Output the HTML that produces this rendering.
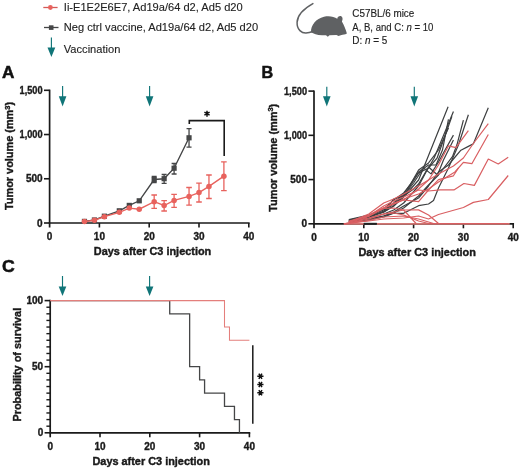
<!DOCTYPE html>
<html><head><meta charset="utf-8"><style>
html,body{margin:0;padding:0;background:#fff;width:520px;height:469px;overflow:hidden}
svg{display:block;will-change:transform}
</style></head><body>
<svg width="520" height="469" viewBox="0 0 520 469">
<line x1="43.3" y1="7.5" x2="57.6" y2="7.5" stroke="#d45a57" stroke-width="1.3"/>
<circle cx="50.4" cy="7.5" r="2.4" fill="#e8625d"/>
<line x1="44" y1="27.5" x2="58.5" y2="27.5" stroke="#454647" stroke-width="1.3"/>
<rect x="48.9" y="25.3" width="4.6" height="4.6" fill="#454647"/>
<line x1="51.4" y1="37.5" x2="51.4" y2="48.5" stroke="#107578" stroke-width="1.15"/>
<polygon points="47.5,47.5 55.3,47.5 51.4,57" fill="#107578"/>
<text x="63.8" y="11" font-family="Liberation Sans, sans-serif" font-size="11.1" fill="#222" stroke="#222" stroke-width="0.12">Ii-E1E2E6E7, Ad19a/64 d2, Ad5 d20</text>
<text x="63.8" y="30.8" font-family="Liberation Sans, sans-serif" font-size="11.1" fill="#222" stroke="#222" stroke-width="0.12">Neg ctrl vaccine, Ad19a/64 d2, Ad5 d20</text>
<text x="63.8" y="53.2" font-family="Liberation Sans, sans-serif" font-size="11.1" fill="#222" stroke="#222" stroke-width="0.12">Vaccination</text>
<path d="M312.9,3.6 C305,8 297.5,14 297.1,22.2 C296.8,30 302,33.2 306,33 C308.5,32.8 310.5,32.3 312.5,31.5" fill="none" stroke="#5f6163" stroke-width="1.5" stroke-linecap="round"/>
<path d="M311,32.2 C310.8,25 316,18.6 324,16.7 C329,15.7 334,16.4 337.3,18.8 C337.4,16.9 339,15.9 340.6,16.1 C342.6,16.4 343.2,19.2 341.9,21.6 C344,25 345.6,29.5 346.9,33.5 C345,34.5 343,34.8 341.5,34.9 L338.5,35.9 L336.5,35.1 L329.5,35.3 L327.8,36.7 L326,35.3 L322,35.3 C317,35 313.5,33.7 311,32.2 Z" fill="#5f6163"/>
<text x="352.3" y="17.0" font-family="Liberation Sans, sans-serif" font-size="10.4" fill="#222" stroke="#222" stroke-width="0.15" textLength="62" lengthAdjust="spacingAndGlyphs">C57BL/6 mice</text>
<text x="352.3" y="30.9" font-family="Liberation Sans, sans-serif" font-size="10.4" fill="#222" stroke="#222" stroke-width="0.15" textLength="81" lengthAdjust="spacingAndGlyphs">A, B, and C: <tspan font-style="italic">n</tspan> = 10</text>
<text x="352.3" y="43.9" font-family="Liberation Sans, sans-serif" font-size="10.4" fill="#222" stroke="#222" stroke-width="0.15" textLength="35" lengthAdjust="spacingAndGlyphs">D: <tspan font-style="italic">n</tspan> = 5</text>
<text transform="translate(2.0,77.7) scale(1.06,1)" font-family="Liberation Sans, sans-serif" font-size="16.2" font-weight="bold" fill="#111" stroke="#111" stroke-width="0.5">A</text>
<text x="261.6" y="77.7" font-family="Liberation Sans, sans-serif" font-size="16.2" font-weight="bold" fill="#111" stroke="#111" stroke-width="0.5">B</text>
<text transform="translate(1.9,272.3) scale(1.04,1)" font-family="Liberation Sans, sans-serif" font-size="17" font-weight="bold" fill="#111" stroke="#111" stroke-width="0.5">C</text>
<line x1="49.6" y1="89.6" x2="49.6" y2="227.5" stroke="#1a1a1a" stroke-width="1.7"/>
<line x1="48.75" y1="223.0" x2="249.65" y2="223.0" stroke="#1a1a1a" stroke-width="1.7"/>
<line x1="99.4" y1="223.0" x2="99.4" y2="227.5" stroke="#1a1a1a" stroke-width="1.6"/>
<line x1="149.20000000000002" y1="223.0" x2="149.20000000000002" y2="227.5" stroke="#1a1a1a" stroke-width="1.6"/>
<line x1="199.0" y1="223.0" x2="199.0" y2="227.5" stroke="#1a1a1a" stroke-width="1.6"/>
<line x1="248.8" y1="223.0" x2="248.8" y2="227.5" stroke="#1a1a1a" stroke-width="1.6"/>
<line x1="44.0" y1="223.0" x2="49.6" y2="223.0" stroke="#1a1a1a" stroke-width="1.6"/>
<text x="42.6" y="226.6" font-family="Liberation Sans, sans-serif" font-size="10" font-weight="bold" text-anchor="end" fill="#1a1a1a" stroke="#1a1a1a" stroke-width="0.35">0</text>
<line x1="44.0" y1="178.76666666666665" x2="49.6" y2="178.76666666666665" stroke="#1a1a1a" stroke-width="1.6"/>
<text x="42.6" y="182.36666666666665" font-family="Liberation Sans, sans-serif" font-size="10" font-weight="bold" text-anchor="end" fill="#1a1a1a" stroke="#1a1a1a" stroke-width="0.35">500</text>
<line x1="44.0" y1="134.53333333333333" x2="49.6" y2="134.53333333333333" stroke="#1a1a1a" stroke-width="1.6"/>
<text x="42.6" y="138.13333333333333" font-family="Liberation Sans, sans-serif" font-size="10" font-weight="bold" text-anchor="end" fill="#1a1a1a" stroke="#1a1a1a" stroke-width="0.35" textLength="23" lengthAdjust="spacingAndGlyphs">1,000</text>
<line x1="44.0" y1="90.30000000000001" x2="49.6" y2="90.30000000000001" stroke="#1a1a1a" stroke-width="1.6"/>
<text x="42.6" y="93.9" font-family="Liberation Sans, sans-serif" font-size="10" font-weight="bold" text-anchor="end" fill="#1a1a1a" stroke="#1a1a1a" stroke-width="0.35" textLength="23" lengthAdjust="spacingAndGlyphs">1,500</text>
<text x="49.6" y="239.7" font-family="Liberation Sans, sans-serif" font-size="10" font-weight="bold" text-anchor="middle" fill="#1a1a1a" stroke="#1a1a1a" stroke-width="0.35">0</text>
<text x="99.4" y="239.7" font-family="Liberation Sans, sans-serif" font-size="10" font-weight="bold" text-anchor="middle" fill="#1a1a1a" stroke="#1a1a1a" stroke-width="0.35">10</text>
<text x="149.20000000000002" y="239.7" font-family="Liberation Sans, sans-serif" font-size="10" font-weight="bold" text-anchor="middle" fill="#1a1a1a" stroke="#1a1a1a" stroke-width="0.35">20</text>
<text x="199.0" y="239.7" font-family="Liberation Sans, sans-serif" font-size="10" font-weight="bold" text-anchor="middle" fill="#1a1a1a" stroke="#1a1a1a" stroke-width="0.35">30</text>
<text x="248.8" y="239.7" font-family="Liberation Sans, sans-serif" font-size="10" font-weight="bold" text-anchor="middle" fill="#1a1a1a" stroke="#1a1a1a" stroke-width="0.35">40</text>
<text x="93.8" y="254.8" font-family="Liberation Sans, sans-serif" font-size="10.9" font-weight="bold" fill="#1a1a1a" stroke="#1a1a1a" stroke-width="0.4">Days after C3 injection</text>
<text transform="translate(13.2,210) rotate(-90)" font-family="Liberation Sans, sans-serif" font-size="10.9" font-weight="bold" fill="#1a1a1a" stroke="#1a1a1a" stroke-width="0.4">Tumor volume (mm<tspan dy="-3.5" font-size="7.5">3</tspan><tspan dy="3.5">)</tspan></text>
<line x1="314.0" y1="90.4" x2="314.0" y2="228.3" stroke="#1a1a1a" stroke-width="1.7"/>
<line x1="313.15" y1="223.8" x2="514.0500000000001" y2="223.8" stroke="#1a1a1a" stroke-width="1.7"/>
<line x1="363.8" y1="223.8" x2="363.8" y2="228.3" stroke="#1a1a1a" stroke-width="1.6"/>
<line x1="413.6" y1="223.8" x2="413.6" y2="228.3" stroke="#1a1a1a" stroke-width="1.6"/>
<line x1="463.4" y1="223.8" x2="463.4" y2="228.3" stroke="#1a1a1a" stroke-width="1.6"/>
<line x1="513.2" y1="223.8" x2="513.2" y2="228.3" stroke="#1a1a1a" stroke-width="1.6"/>
<line x1="308.4" y1="223.8" x2="314.0" y2="223.8" stroke="#1a1a1a" stroke-width="1.6"/>
<text x="307.0" y="227.4" font-family="Liberation Sans, sans-serif" font-size="10" font-weight="bold" text-anchor="end" fill="#1a1a1a" stroke="#1a1a1a" stroke-width="0.35">0</text>
<line x1="308.4" y1="179.56666666666666" x2="314.0" y2="179.56666666666666" stroke="#1a1a1a" stroke-width="1.6"/>
<text x="307.0" y="183.16666666666666" font-family="Liberation Sans, sans-serif" font-size="10" font-weight="bold" text-anchor="end" fill="#1a1a1a" stroke="#1a1a1a" stroke-width="0.35">500</text>
<line x1="308.4" y1="135.33333333333331" x2="314.0" y2="135.33333333333331" stroke="#1a1a1a" stroke-width="1.6"/>
<text x="307.0" y="138.9333333333333" font-family="Liberation Sans, sans-serif" font-size="10" font-weight="bold" text-anchor="end" fill="#1a1a1a" stroke="#1a1a1a" stroke-width="0.35" textLength="23" lengthAdjust="spacingAndGlyphs">1,000</text>
<line x1="308.4" y1="91.1" x2="314.0" y2="91.1" stroke="#1a1a1a" stroke-width="1.6"/>
<text x="307.0" y="94.69999999999999" font-family="Liberation Sans, sans-serif" font-size="10" font-weight="bold" text-anchor="end" fill="#1a1a1a" stroke="#1a1a1a" stroke-width="0.35" textLength="23" lengthAdjust="spacingAndGlyphs">1,500</text>
<text x="314.0" y="240.6" font-family="Liberation Sans, sans-serif" font-size="10" font-weight="bold" text-anchor="middle" fill="#1a1a1a" stroke="#1a1a1a" stroke-width="0.35">0</text>
<text x="363.8" y="240.6" font-family="Liberation Sans, sans-serif" font-size="10" font-weight="bold" text-anchor="middle" fill="#1a1a1a" stroke="#1a1a1a" stroke-width="0.35">10</text>
<text x="413.6" y="240.6" font-family="Liberation Sans, sans-serif" font-size="10" font-weight="bold" text-anchor="middle" fill="#1a1a1a" stroke="#1a1a1a" stroke-width="0.35">20</text>
<text x="463.4" y="240.6" font-family="Liberation Sans, sans-serif" font-size="10" font-weight="bold" text-anchor="middle" fill="#1a1a1a" stroke="#1a1a1a" stroke-width="0.35">30</text>
<text x="513.2" y="240.6" font-family="Liberation Sans, sans-serif" font-size="10" font-weight="bold" text-anchor="middle" fill="#1a1a1a" stroke="#1a1a1a" stroke-width="0.35">40</text>
<text x="358.5" y="256.4" font-family="Liberation Sans, sans-serif" font-size="10.9" font-weight="bold" fill="#1a1a1a" stroke="#1a1a1a" stroke-width="0.4">Days after C3 injection</text>
<text transform="translate(276.6,211.8) rotate(-90)" font-family="Liberation Sans, sans-serif" font-size="10.9" font-weight="bold" fill="#1a1a1a" stroke="#1a1a1a" stroke-width="0.4">Tumor volume (mm<tspan dy="-3.5" font-size="7.5">3</tspan><tspan dy="3.5">)</tspan></text>
<line x1="50.2" y1="299.8" x2="50.2" y2="437.3" stroke="#1a1a1a" stroke-width="1.7"/>
<line x1="49.35" y1="432.8" x2="250.25000000000003" y2="432.8" stroke="#1a1a1a" stroke-width="1.7"/>
<line x1="100.0" y1="432.8" x2="100.0" y2="437.3" stroke="#1a1a1a" stroke-width="1.6"/>
<line x1="149.8" y1="432.8" x2="149.8" y2="437.3" stroke="#1a1a1a" stroke-width="1.6"/>
<line x1="199.60000000000002" y1="432.8" x2="199.60000000000002" y2="437.3" stroke="#1a1a1a" stroke-width="1.6"/>
<line x1="249.40000000000003" y1="432.8" x2="249.40000000000003" y2="437.3" stroke="#1a1a1a" stroke-width="1.6"/>
<line x1="44.6" y1="432.8" x2="50.2" y2="432.8" stroke="#1a1a1a" stroke-width="1.6"/>
<text x="43.2" y="436.40000000000003" font-family="Liberation Sans, sans-serif" font-size="10" font-weight="bold" text-anchor="end" fill="#1a1a1a" stroke="#1a1a1a" stroke-width="0.35">0</text>
<line x1="44.6" y1="366.7" x2="50.2" y2="366.7" stroke="#1a1a1a" stroke-width="1.6"/>
<text x="43.2" y="370.3" font-family="Liberation Sans, sans-serif" font-size="10" font-weight="bold" text-anchor="end" fill="#1a1a1a" stroke="#1a1a1a" stroke-width="0.35">50</text>
<line x1="44.6" y1="300.6" x2="50.2" y2="300.6" stroke="#1a1a1a" stroke-width="1.6"/>
<text x="43.2" y="304.20000000000005" font-family="Liberation Sans, sans-serif" font-size="10" font-weight="bold" text-anchor="end" fill="#1a1a1a" stroke="#1a1a1a" stroke-width="0.35">100</text>
<text x="50.2" y="449.8" font-family="Liberation Sans, sans-serif" font-size="10" font-weight="bold" text-anchor="middle" fill="#1a1a1a" stroke="#1a1a1a" stroke-width="0.35">0</text>
<text x="100.0" y="449.8" font-family="Liberation Sans, sans-serif" font-size="10" font-weight="bold" text-anchor="middle" fill="#1a1a1a" stroke="#1a1a1a" stroke-width="0.35">10</text>
<text x="149.8" y="449.8" font-family="Liberation Sans, sans-serif" font-size="10" font-weight="bold" text-anchor="middle" fill="#1a1a1a" stroke="#1a1a1a" stroke-width="0.35">20</text>
<text x="199.60000000000002" y="449.8" font-family="Liberation Sans, sans-serif" font-size="10" font-weight="bold" text-anchor="middle" fill="#1a1a1a" stroke="#1a1a1a" stroke-width="0.35">30</text>
<text x="249.40000000000003" y="449.8" font-family="Liberation Sans, sans-serif" font-size="10" font-weight="bold" text-anchor="middle" fill="#1a1a1a" stroke="#1a1a1a" stroke-width="0.35">40</text>
<text x="92.5" y="464.6" font-family="Liberation Sans, sans-serif" font-size="10.9" font-weight="bold" fill="#1a1a1a" stroke="#1a1a1a" stroke-width="0.4">Days after C3 injection</text>
<line x1="46.400000000000006" y1="426.19" x2="50.2" y2="426.19" stroke="#1a1a1a" stroke-width="1.4"/>
<line x1="46.400000000000006" y1="419.58" x2="50.2" y2="419.58" stroke="#1a1a1a" stroke-width="1.4"/>
<line x1="46.400000000000006" y1="412.97" x2="50.2" y2="412.97" stroke="#1a1a1a" stroke-width="1.4"/>
<line x1="46.400000000000006" y1="406.36" x2="50.2" y2="406.36" stroke="#1a1a1a" stroke-width="1.4"/>
<line x1="46.400000000000006" y1="399.75" x2="50.2" y2="399.75" stroke="#1a1a1a" stroke-width="1.4"/>
<line x1="46.400000000000006" y1="393.14" x2="50.2" y2="393.14" stroke="#1a1a1a" stroke-width="1.4"/>
<line x1="46.400000000000006" y1="386.53000000000003" x2="50.2" y2="386.53000000000003" stroke="#1a1a1a" stroke-width="1.4"/>
<line x1="46.400000000000006" y1="379.92" x2="50.2" y2="379.92" stroke="#1a1a1a" stroke-width="1.4"/>
<line x1="46.400000000000006" y1="373.31" x2="50.2" y2="373.31" stroke="#1a1a1a" stroke-width="1.4"/>
<line x1="46.400000000000006" y1="360.09000000000003" x2="50.2" y2="360.09000000000003" stroke="#1a1a1a" stroke-width="1.4"/>
<line x1="46.400000000000006" y1="353.48" x2="50.2" y2="353.48" stroke="#1a1a1a" stroke-width="1.4"/>
<line x1="46.400000000000006" y1="346.87" x2="50.2" y2="346.87" stroke="#1a1a1a" stroke-width="1.4"/>
<line x1="46.400000000000006" y1="340.26" x2="50.2" y2="340.26" stroke="#1a1a1a" stroke-width="1.4"/>
<line x1="46.400000000000006" y1="333.65" x2="50.2" y2="333.65" stroke="#1a1a1a" stroke-width="1.4"/>
<line x1="46.400000000000006" y1="327.04" x2="50.2" y2="327.04" stroke="#1a1a1a" stroke-width="1.4"/>
<line x1="46.400000000000006" y1="320.43" x2="50.2" y2="320.43" stroke="#1a1a1a" stroke-width="1.4"/>
<line x1="46.400000000000006" y1="313.82" x2="50.2" y2="313.82" stroke="#1a1a1a" stroke-width="1.4"/>
<line x1="46.400000000000006" y1="307.21000000000004" x2="50.2" y2="307.21000000000004" stroke="#1a1a1a" stroke-width="1.4"/>
<text transform="translate(20.9,421.6) rotate(-90)" font-family="Liberation Sans, sans-serif" font-size="10.9" font-weight="bold" fill="#1a1a1a" stroke="#1a1a1a" stroke-width="0.4">Probability of survival</text>
<line x1="62.6" y1="86.0" x2="62.6" y2="97.3" stroke="#107578" stroke-width="1.15"/>
<polygon points="58.800000000000004,96.3 66.4,96.3 62.6,106.4" fill="#107578"/>
<line x1="149.6" y1="86.0" x2="149.6" y2="97.3" stroke="#107578" stroke-width="1.15"/>
<polygon points="145.79999999999998,96.3 153.4,96.3 149.6,106.4" fill="#107578"/>
<line x1="326.8" y1="86.8" x2="326.8" y2="97.3" stroke="#107578" stroke-width="1.15"/>
<polygon points="323.0,96.3 330.6,96.3 326.8,106.4" fill="#107578"/>
<line x1="414.3" y1="86.8" x2="414.3" y2="97.3" stroke="#107578" stroke-width="1.15"/>
<polygon points="410.5,96.3 418.1,96.3 414.3,106.4" fill="#107578"/>
<line x1="62.5" y1="276.0" x2="62.5" y2="287.4" stroke="#107578" stroke-width="1.15"/>
<polygon points="58.7,286.4 66.3,286.4 62.5,296.0" fill="#107578"/>
<line x1="149.6" y1="276.0" x2="149.6" y2="287.4" stroke="#107578" stroke-width="1.15"/>
<polygon points="145.79999999999998,286.4 153.4,286.4 149.6,296.0" fill="#107578"/>
<polyline points="84.46,221.4 94.42,220.0 104.38,216.2 119.32,210.8 129.28,205.4 139.24,200.8 154.18,179.5 164.14,178.7 174.10,168.2 189.04,137.8" fill="none" stroke="#454647" stroke-width="1.4"/>
<path d="M154.18,176.5 V182.5 M151.68,176.5 H156.68 M151.68,182.5 H156.68" stroke="#454647" stroke-width="1.3" fill="none"/>
<path d="M164.14000000000001,174.5 V183.4 M161.64000000000001,174.5 H166.64000000000001 M161.64000000000001,183.4 H166.64000000000001" stroke="#454647" stroke-width="1.3" fill="none"/>
<path d="M174.10000000000002,163.5 V174 M171.60000000000002,163.5 H176.60000000000002 M171.60000000000002,174 H176.60000000000002" stroke="#454647" stroke-width="1.3" fill="none"/>
<path d="M189.04,128.6 V147.2 M186.54,128.6 H191.54 M186.54,147.2 H191.54" stroke="#454647" stroke-width="1.3" fill="none"/>
<rect x="81.86" y="218.8" width="5.2" height="5.2" fill="#454647"/>
<rect x="91.82" y="217.4" width="5.2" height="5.2" fill="#454647"/>
<rect x="101.78" y="213.6" width="5.2" height="5.2" fill="#454647"/>
<rect x="116.72" y="208.20000000000002" width="5.2" height="5.2" fill="#454647"/>
<rect x="126.68" y="202.8" width="5.2" height="5.2" fill="#454647"/>
<rect x="136.64" y="198.20000000000002" width="5.2" height="5.2" fill="#454647"/>
<rect x="151.58" y="176.9" width="5.2" height="5.2" fill="#454647"/>
<rect x="161.54" y="176.1" width="5.2" height="5.2" fill="#454647"/>
<rect x="171.50" y="165.6" width="5.2" height="5.2" fill="#454647"/>
<rect x="186.44" y="135.20000000000002" width="5.2" height="5.2" fill="#454647"/>
<polyline points="84.46,221.6 94.42,220.2 104.38,216.7 119.32,212.3 129.28,208.1 139.24,209.2 154.18,201.7 164.14,205.5 174.10,200.4 189.04,196.4 199.00,192.6 208.96,186.4 223.90,176.2" fill="none" stroke="#e8625d" stroke-width="1.4"/>
<path d="M154.18,195 V208.4 M151.38,195 H156.98000000000002 M151.38,208.4 H156.98000000000002" stroke="#e8625d" stroke-width="1.3" fill="none"/>
<path d="M164.14000000000001,200.7 V211 M161.34,200.7 H166.94000000000003 M161.34,211 H166.94000000000003" stroke="#e8625d" stroke-width="1.3" fill="none"/>
<path d="M174.10000000000002,194.3 V207.3 M171.3,194.3 H176.90000000000003 M171.3,207.3 H176.90000000000003" stroke="#e8625d" stroke-width="1.3" fill="none"/>
<path d="M189.04,187.5 V205.2 M186.23999999999998,187.5 H191.84 M186.23999999999998,205.2 H191.84" stroke="#e8625d" stroke-width="1.3" fill="none"/>
<path d="M199.0,183.2 V202 M196.2,183.2 H201.8 M196.2,202 H201.8" stroke="#e8625d" stroke-width="1.3" fill="none"/>
<path d="M208.96,175 V198.5 M206.16,175 H211.76000000000002 M206.16,198.5 H211.76000000000002" stroke="#e8625d" stroke-width="1.3" fill="none"/>
<path d="M223.9,161.9 V190.6 M221.1,161.9 H226.70000000000002 M221.1,190.6 H226.70000000000002" stroke="#e8625d" stroke-width="1.3" fill="none"/>
<circle cx="84.46" cy="221.6" r="2.75" fill="#e8625d"/>
<circle cx="94.42" cy="220.2" r="2.75" fill="#e8625d"/>
<circle cx="104.38" cy="216.7" r="2.75" fill="#e8625d"/>
<circle cx="119.32" cy="212.3" r="2.75" fill="#e8625d"/>
<circle cx="129.28" cy="208.1" r="2.75" fill="#e8625d"/>
<circle cx="139.24" cy="209.2" r="2.75" fill="#e8625d"/>
<circle cx="154.18" cy="201.7" r="2.75" fill="#e8625d"/>
<circle cx="164.14" cy="205.5" r="2.75" fill="#e8625d"/>
<circle cx="174.10" cy="200.4" r="2.75" fill="#e8625d"/>
<circle cx="189.04" cy="196.4" r="2.75" fill="#e8625d"/>
<circle cx="199.00" cy="192.6" r="2.75" fill="#e8625d"/>
<circle cx="208.96" cy="186.4" r="2.75" fill="#e8625d"/>
<circle cx="223.90" cy="176.2" r="2.75" fill="#e8625d"/>
<path d="M189.3,124 V120.6 H224.2 V156" fill="none" stroke="#1a1a1a" stroke-width="1.6"/>
<path d="M207.00,110.70 L207.00,116.70 M209.60,112.20 L204.40,115.20 M209.60,115.20 L204.40,112.20 " stroke="#111" stroke-width="1.5" fill="none"/>
<polyline points="50.20,300.60 169.72,300.60 169.72,313.82 189.64,313.82 189.64,366.70 199.60,366.70 199.60,379.92 204.58,379.92 204.58,393.14 224.50,393.14 224.50,406.36 234.46,406.36 234.46,419.58 239.44,419.58 239.44,432.80" fill="none" stroke="#454647" stroke-width="1.3"/>
<polyline points="50.20,300.60 224.50,300.60 224.50,327.04 229.48,327.04 229.48,340.26 249.40,340.26" fill="none" stroke="#e47f7c" stroke-width="1.05"/>
<line x1="252.8" y1="345.2" x2="252.8" y2="423.7" stroke="#1a1a1a" stroke-width="1.5"/>
<path d="M257.30,376.20 L263.50,376.20 M258.85,373.52 L261.95,378.88 M261.95,373.52 L258.85,378.88 " stroke="#111" stroke-width="1.5" fill="none"/>
<path d="M257.30,384.50 L263.50,384.50 M258.85,381.82 L261.95,387.18 M261.95,381.82 L258.85,387.18 " stroke="#111" stroke-width="1.5" fill="none"/>
<path d="M257.30,392.70 L263.50,392.70 M258.85,390.02 L261.95,395.38 M261.95,390.02 L258.85,395.38 " stroke="#111" stroke-width="1.5" fill="none"/>
<path d="M343.88,223.8 H363.8 M376.748,223.8 H509.714" stroke="#d27572" stroke-width="1.8" fill="none"/>
<line x1="363.8" y1="223.8" x2="376.748" y2="223.8" stroke="#222" stroke-width="2.0"/>
<polyline points="348.86,220 368.78,217 383.72,212 393.68,206 403.64,197 418.58,180 428.04,156.7 448.11,106.7" fill="none" stroke="#3d3f40" stroke-width="1.2" stroke-linejoin="round"/>
<polyline points="348.86,221 368.78,218 383.72,214 393.68,210 403.64,203 418.58,186 426.05,172 434.02,158.2 453.44,111.6" fill="none" stroke="#3d3f40" stroke-width="1.2" stroke-linejoin="round"/>
<polyline points="348.86,221 368.78,217 383.72,212 393.68,206 403.64,196 418.58,173 428.54,168 437.01,158.2 451.95,116.4" fill="none" stroke="#3d3f40" stroke-width="1.2" stroke-linejoin="round"/>
<polyline points="348.86,220 368.78,216 383.72,210 393.68,203 403.64,194 418.58,172 428.54,165 436.01,165 442.48,150 448.46,119.3" fill="none" stroke="#3d3f40" stroke-width="1.2" stroke-linejoin="round"/>
<polyline points="348.86,222 368.78,220 383.72,217 393.68,213.3 403.64,213.3 418.58,205.7 428.54,204 433.52,200.5 438.50,188 448.46,168 458.42,145 468.38,114.8" fill="none" stroke="#3d3f40" stroke-width="1.2" stroke-linejoin="round"/>
<polyline points="348.86,222 368.78,219 383.72,216 393.68,213 403.64,208 418.58,196 428.54,185 438.50,175 452.44,156.7 456.93,144.8 463.40,120.1" fill="none" stroke="#3d3f40" stroke-width="1.2" stroke-linejoin="round"/>
<polyline points="348.86,221 368.78,217 383.72,211 393.68,204 403.64,196 413.60,183 423.56,168 431.03,173.9 438.50,162 445.47,149.3 453.44,135.1" fill="none" stroke="#3d3f40" stroke-width="1.2" stroke-linejoin="round"/>
<polyline points="348.86,222 368.78,219 383.72,216 393.68,212 403.64,206 418.58,198 428.54,186 438.50,172 448.46,165 453.44,159 460.91,150.2 468.38,146.4 473.36,143.8 488.30,107.7" fill="none" stroke="#3d3f40" stroke-width="1.2" stroke-linejoin="round"/>
<polyline points="348.86,219.5 368.78,215 383.72,209 393.68,200 403.64,193 410.11,185 418.58,170 423.56,166.4 428.54,162.9 438.50,150 448.46,128" fill="none" stroke="#3d3f40" stroke-width="1.2" stroke-linejoin="round"/>
<polyline points="348.86,221 363.80,218 383.72,212 393.68,199 403.64,196 413.60,189 418.58,184 428.54,167 437.50,175 443.48,160 453.44,140" fill="none" stroke="#3d3f40" stroke-width="1.2" stroke-linejoin="round"/>
<polyline points="348.86,222 368.78,216 383.72,206 393.68,201 403.64,197 418.58,190 428.54,191 439.99,189.9 453.94,189.9 463.90,183.5 474.36,185.4 488.30,159 498.26,164 508.22,157.3" fill="none" stroke="#d95f62" stroke-width="1.2" stroke-linejoin="round"/>
<polyline points="343.88,223.8 368.78,221 383.72,219 403.64,218 418.58,216 428.54,219 438.50,214.5 463.40,207.5 473.36,202.4 488.30,199.5 508.22,175.5" fill="none" stroke="#d95f62" stroke-width="1.2" stroke-linejoin="round"/>
<polyline points="348.86,222 368.78,214 383.72,203 393.68,199 403.64,194 418.58,186 428.54,180 438.50,174 453.44,166 463.40,158 473.36,143.5 488.30,123.7" fill="none" stroke="#d95f62" stroke-width="1.2" stroke-linejoin="round"/>
<polyline points="348.86,222 368.78,216 383.72,208 393.68,204 403.64,199 418.58,194 428.54,189 438.50,182 454.93,172 463.40,162.4 471.87,163.7 488.30,134.5" fill="none" stroke="#d95f62" stroke-width="1.2" stroke-linejoin="round"/>
<polyline points="348.86,221 368.78,216 383.72,208 393.68,203 403.64,200 418.58,189 428.54,180 438.50,165 448.46,145.8 455.93,147.7 468.38,130.7" fill="none" stroke="#d95f62" stroke-width="1.2" stroke-linejoin="round"/>
<polyline points="343.88,223.8 368.78,219 383.72,214 393.68,213 403.64,215 418.58,221 428.54,223.5 508.22,223.5" fill="none" stroke="#d95f62" stroke-width="1.2" stroke-linejoin="round"/>
<polyline points="348.86,223 358.82,221 368.78,216 383.72,208.5 393.68,208 403.64,210 418.58,209.9 428.54,215 438.50,223.5" fill="none" stroke="#d95f62" stroke-width="1.2" stroke-linejoin="round"/>
<polyline points="343.88,223.8 368.78,220.5 383.72,217 403.64,216 418.58,219 433.52,223.5" fill="none" stroke="#d95f62" stroke-width="1.2" stroke-linejoin="round"/>
<polyline points="348.86,222 368.78,215 383.72,208 393.68,204 403.64,200 418.58,201.6 428.54,190 438.50,179.6 453.44,175.8 458.42,168" fill="none" stroke="#d95f62" stroke-width="1.2" stroke-linejoin="round"/>
<polyline points="348.86,222 368.78,218 383.72,214 393.68,212 403.64,210 416.09,223.5" fill="none" stroke="#d95f62" stroke-width="1.2" stroke-linejoin="round"/>
</svg>
</body></html>
